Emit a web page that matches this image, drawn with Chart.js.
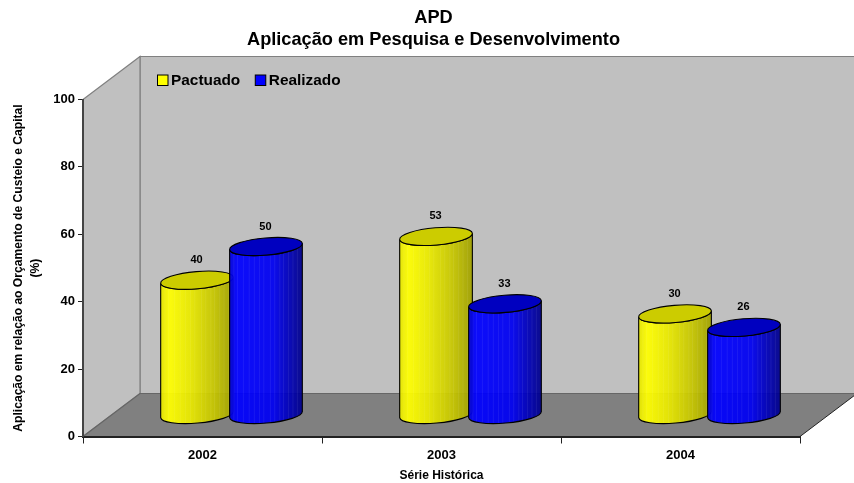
<!DOCTYPE html>
<html><head><meta charset="utf-8">
<style>html,body{margin:0;padding:0;background:#fff}#w{width:854px;height:483px;position:relative}</style>
<script src="https://cdn.jsdelivr.net/npm/chart.js@4"></script>
</head><body><div id="w"><canvas id="c" width="854" height="483"></canvas></div>
<script>
const titleLines = ['APD', 'Aplicação em Pesquisa e Desenvolvimento'];
const categories = ['2002', '2003', '2004'];
const pactuado = [40, 53, 30];
const realizado = [50, 33, 26];
const yTitle = ['Aplicação em relação ao Orçamento de Custeio e Capital', '(%)'];
const xTitle = 'Série Histórica';
const FONT = '"Liberation Sans", Arial, sans-serif';
const DX = 57, DY = 43, RY = 8.6, TILT = -0.085;
const streaks = [.06,.11,.19,.27,.34,.41,.47,.56,.62,.69,.74,.81,.87,.93];
const looks = [
  {cap:'#cccc00', stops:[[0,'#e6e600'],[.12,'#ffff00'],[.4,'#eaea00'],[.75,'#c4c400'],[1,'#a0a000']]},
  {cap:'#0000c0', stops:[[0,'#0000d8'],[.1,'#0000ff'],[.6,'#0000f0'],[.85,'#0000b0'],[1,'#00008a']]}
];

const depth3D = {
  id:'depth3D',
  afterLayout(chart){
    // the title is centred on the whole 3D box, wall depth included
    if(chart.titleBlock){ chart.titleBlock.left = 8; chart.titleBlock.right = chart.chartArea.right + DX + 2; }
  },
  beforeDraw(chart){
    const {ctx, chartArea:a} = chart;
    const poly = (pts, fill, stroke, lw) => {
      ctx.beginPath(); pts.forEach((p,i)=> i?ctx.lineTo(p[0],p[1]):ctx.moveTo(p[0],p[1])); ctx.closePath();
      if(fill){ctx.fillStyle=fill;ctx.fill();}
      if(stroke){ctx.strokeStyle=stroke;ctx.lineWidth=lw||1;ctx.stroke();}
    };
    ctx.save();
    poly([[a.left+DX,a.top-DY],[a.right+DX,a.top-DY],[a.right+DX,a.bottom-DY],[a.left+DX,a.bottom-DY]],'#c0c0c0','#808080',1.2);
    poly([[a.left,a.top],[a.left+DX,a.top-DY],[a.left+DX,a.bottom-DY],[a.left,a.bottom]],'#c0c0c0','#808080',1.2);
    poly([[a.left,a.bottom],[a.right,a.bottom],[a.right+DX,a.bottom-DY],[a.left+DX,a.bottom-DY]],'#808080');
    ctx.strokeStyle='#666'; ctx.lineWidth=1.2;
    ctx.beginPath(); ctx.moveTo(a.left,a.bottom); ctx.lineTo(a.left+DX,a.bottom-DY); ctx.lineTo(a.right+DX,a.bottom-DY); ctx.stroke();
    ctx.strokeStyle='#222'; ctx.lineWidth=1;
    ctx.beginPath(); ctx.moveTo(a.right,a.bottom); ctx.lineTo(a.right+DX,a.bottom-DY); ctx.stroke();
    ctx.restore();
  },
  afterDatasetsDraw(chart){
    const {ctx, chartArea:a} = chart;
    ctx.save();
    // legend
    let lx = a.left+DX+17; const ly = a.top-19;
    chart.data.datasets.forEach((d,i)=>{
      ctx.fillStyle=d.legendColor; ctx.strokeStyle='#000'; ctx.lineWidth=1;
      ctx.fillRect(lx+.5,ly-5.5,10.5,10.5); ctx.strokeRect(lx+.5,ly-5.5,10.5,10.5);
      ctx.fillStyle='#000'; ctx.font='bold 15.4px '+FONT; ctx.textBaseline='middle'; ctx.textAlign='left';
      ctx.fillText(d.label,lx+14,ly+.5);
      lx += 14 + ctx.measureText(d.label).width + 14.5;
    });
    // cylinders
    categories.forEach((_,j)=>{
      chart.data.datasets.forEach((d,i)=>{
        const el = chart.getDatasetMeta(i).data[j], look = looks[i];
        const cx = el.x+DX/2+.5, top = el.y-DY/2, bot = el.base-DY/2, rx = el.width/2;
        const ex = rx*Math.cos(TILT), ey = rx*Math.sin(TILT);
        const path = () => {
          ctx.beginPath();
          ctx.moveTo(cx-ex, top-ey);
          ctx.lineTo(cx-ex, bot-ey);
          ctx.ellipse(cx,bot,rx,RY,TILT,Math.PI,0,true);
          ctx.lineTo(cx+ex, top+ey);
          ctx.ellipse(cx,top,rx,RY,TILT,0,Math.PI,false);
          ctx.closePath();
        };
        const g = ctx.createLinearGradient(cx-rx,0,cx+rx,0);
        look.stops.forEach(s=>g.addColorStop(s[0],s[1]));
        ctx.save();
        path(); ctx.clip();
        ctx.globalAlpha=.94; ctx.fillStyle=g; ctx.fillRect(cx-rx-2,top-RY-6,2*rx+4,bot-top+2*RY+12);
        ctx.globalAlpha=.07; ctx.strokeStyle='#fff'; ctx.lineWidth=1;
        streaks.forEach(f=>{ctx.beginPath();ctx.moveTo(cx-rx+f*2*rx,top);ctx.lineTo(cx-rx+f*2*rx,bot+RY+4);ctx.stroke();});
        ctx.restore();
        path(); ctx.strokeStyle='#000'; ctx.lineWidth=1.1; ctx.stroke();
        ctx.beginPath(); ctx.ellipse(cx,top,rx,RY,TILT,0,Math.PI*2);
        ctx.fillStyle=look.cap; ctx.fill(); ctx.stroke();
        ctx.fillStyle='#000'; ctx.font='bold 11px '+FONT; ctx.textAlign='center'; ctx.textBaseline='middle';
        ctx.fillText(String(d.data[j]),cx-.5,top-20);
      });
    });
    ctx.restore();
  }
};

new Chart(document.getElementById('c'),{
  type:'bar',
  data:{labels:categories,datasets:[
    {label:'Pactuado',data:pactuado,backgroundColor:'rgba(0,0,0,0)',legendColor:'#ffff00',barPercentage:1.058,categoryPercentage:.577},
    {label:'Realizado',data:realizado,backgroundColor:'rgba(0,0,0,0)',legendColor:'#0000ff',barPercentage:1.058,categoryPercentage:.577}
  ]},
  plugins:[depth3D],
  options:{
    responsive:false,animation:false,
    layout:{padding:{top:7,right:54,left:10,bottom:0}},
    plugins:{
      legend:{display:false},tooltip:{enabled:false},
      title:{display:true,text:titleLines,color:'#000',font:{family:FONT,size:18.2,weight:'bold',lineHeight:1.209},padding:{top:0,bottom:48.5}}
    },
    scales:{
      x:{
        grid:{offset:true,drawOnChartArea:false,color:'#222',tickLength:7},
        border:{color:'#222',width:2},
        ticks:{color:'#000',padding:4,font:{family:FONT,size:13,weight:'bold'}},
        title:{display:true,text:xTitle,color:'#000',font:{family:FONT,size:12,weight:'bold'},padding:{top:6,bottom:0}},
        afterFit(s){s.height=46.5;}
      },
      y:{
        min:0,max:100,
        grid:{drawOnChartArea:false,color:'#222',tickLength:5},
        border:{color:'#444',width:2},
        ticks:{stepSize:20,color:'#000',padding:3,font:{family:FONT,size:13,weight:'bold'}},
        title:{display:true,text:yTitle,color:'#000',font:{family:FONT,size:12.1,weight:'bold',lineHeight:1.4},padding:{top:0,bottom:0}},
        afterFit(s){s.width=73;}
      }
    }
  }
});
</script></body></html>
